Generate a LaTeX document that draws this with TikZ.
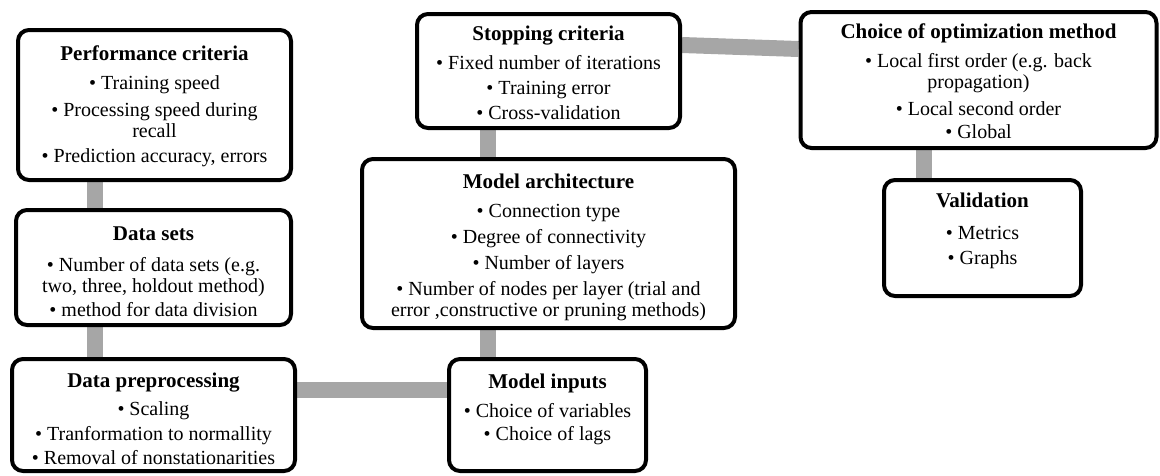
\documentclass[tikz,border=0pt]{standalone}
\usepackage{fontspec}
\setmainfont{Liberation Serif}
\usetikzlibrary{backgrounds}
\definecolor{linkgray}{RGB}{166,166,166}
\newcommand{\stagetitle}[1]{{\fontsize{21}{21}\selectfont\textbf{#1}}}

\begin{document}
\begin{tikzpicture}[x=1pt,y=-1pt,
  stage/.style={draw=black, line width=4pt, rounded corners=11pt, fill=white, inner sep=0pt},
  stagetext/.style={anchor=north, align=center, inner sep=0pt, font=\fontsize{20}{21}\selectfont},
  link/.style={draw=linkgray, line width=16pt}]
\useasboundingbox (0,0) rectangle (1160,475);

% stage boxes
\node[stage, minimum width=273pt, minimum height=150pt] (pc) at (154.5,105) {};
\node[stage, minimum width=275pt, minimum height=115pt] (ds) at (153.5,267.5) {};
\node[stage, minimum width=283pt, minimum height=112pt] (dp) at (153.5,415) {};
\node[stage, minimum width=197pt, minimum height=112pt] (mi) at (547.5,415) {};
\node[stage, minimum width=373pt, minimum height=169pt] (ma) at (548.5,243.5) {};
\node[stage, minimum width=263pt, minimum height=114pt] (sc) at (548.5,71) {};
\node[stage, minimum width=356pt, minimum height=136pt] (co) at (978.5,80) {};
\node[stage, minimum width=197pt, minimum height=116pt] (va) at (982.5,238) {};

% box contents
\node[stagetext] (pct) at ([yshift=-18pt]pc.north)
  {\stagetitle{Performance criteria}\\[8pt] • Training speed\\[6pt] • Processing speed during\\ recall\\[4pt] • Prediction accuracy, errors};
\node[stagetext] (dst) at ([yshift=-19pt]ds.north)
  {\stagetitle{Data sets}\\[10pt] • Number of data sets (e.g.\\ two, three, holdout method)\\[3pt] • method for data division};
\node[stagetext] (dpt) at ([yshift=-16pt]dp.north)
  {\stagetitle{Data preprocessing}\\[7pt] • Scaling\\[4pt] • Tranformation to normallity\\[3pt] • Removal of nonstationarities};
\node[stagetext] (mit) at ([yshift=-17pt]mi.north)
  {\stagetitle{Model inputs}\\[8pt] • Choice of variables\\[2pt] • Choice of lags};
\node[stagetext] (mat) at ([yshift=-17pt]ma.north)
  {\stagetitle{Model architecture}\\[8pt] • Connection type\\[5pt] • Degree of connectivity\\[5pt] • Number of layers\\[5pt] • Number of nodes per layer (trial and\\ error ,constructive or pruning methods)};
\node[stagetext] (sct) at ([yshift=-14pt]sc.north)
  {\stagetitle{Stopping criteria}\\[8pt] • Fixed number of iterations\\[4pt] • Training error\\[4pt] • Cross-validation};
\node[stagetext] (cot) at ([yshift=-14pt]co.north)
  {\stagetitle{Choice of optimization method}\\[8pt] • Local first order (e.g. back\\ propagation)\\[6pt] • Local second order\\[2pt] • Global};
\node[stagetext] (vat) at ([yshift=-15pt]va.north)
  {\stagetitle{Validation}\\[11pt] • Metrics\\[4pt] • Graphs};

% connectors behind the boxes
\begin{pgfonlayer}{background}
\draw[link] (pc.south -| 95,0) -- (ds.north -| 95,0);
\draw[link] (ds.south -| 95,0) -- (dp.north -| 95,0);
\draw[link] (dp.east |- 0,390) -- (mi.west |- 0,390);
\draw[link] (ma.south -| 488,0) -- (mi.north -| 488,0);
\draw[link] (sc.south -| 488,0) -- (ma.north -| 488,0);
\draw[link] (sc.east |- 0,45) -- (co.west |- 0,49);
\draw[link] (co.south -| 924,0) -- (va.north -| 924,0);
\end{pgfonlayer}
\end{tikzpicture}
\end{document}
